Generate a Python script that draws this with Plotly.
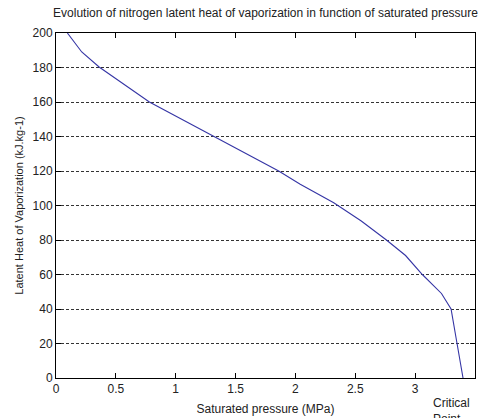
import plotly.graph_objects as go

# Saturated pressure (MPa) and latent heat of vaporization (kJ/kg)
pressure = [0.095, 0.215, 0.36, 0.55, 0.78, 1.05, 1.32, 1.6, 1.86, 2.04,
            2.32, 2.55, 2.76, 2.92, 3.06, 3.22, 3.30, 3.35, 3.40]
latent_heat = [200, 189, 180.3, 171, 160, 150, 140, 130, 120, 112.3,
               101.6, 91, 80, 71, 60, 49, 40, 20, 0]

x_ticks = [0, 0.5, 1, 1.5, 2, 2.5, 3, 3.5]
x_tick_labels = ["0", "0.5", "1", "1.5", "2", "2.5", "3", "3.5"]
y_ticks = [0, 20, 40, 60, 80, 100, 120, 140, 160, 180, 200]

FONT = "Liberation Sans, Arial, sans-serif"

fig = go.Figure()
fig.add_trace(go.Scatter(
    x=pressure, y=latent_heat, mode="lines",
    line=dict(color="#3535a5", width=1.1),
    showlegend=False, hoverinfo="x+y",
))

axis_common = dict(
    showline=True, linecolor="black", linewidth=1, mirror="ticks",
    ticks="inside", ticklen=5, tickcolor="black", tickwidth=1,
    zeroline=False,
    tickfont=dict(family=FONT, size=12, color="#222222"),
)

fig.update_layout(
    width=483, height=418,
    margin=dict(l=56, r=8, t=33, b=40),
    paper_bgcolor="white", plot_bgcolor="white",
    font=dict(family=FONT, size=11, color="#222222"),
    title=dict(
        text="Evolution of nitrogen latent heat of vaporization in function of saturated pressure",
        x=0.5, xref="paper", xanchor="center",
        y=1 - 13 / 418, yref="container", yanchor="middle",
        font=dict(family=FONT, size=12, color="#222222"),
    ),
    xaxis=dict(
        range=[0, 3.5], tickvals=x_ticks, ticktext=x_tick_labels,
        showgrid=False,
        title=dict(text="Saturated pressure (MPa)", standoff=9,
                   font=dict(family=FONT, size=12, color="#222222")),
        automargin=False,
        **axis_common,
    ),
    yaxis=dict(
        range=[0, 200], tickvals=y_ticks,
        showgrid=True, gridcolor="#333333", gridwidth=1, griddash="3px,2px",
        title=dict(text="Latent Heat of Vaporization (kJ.kg-1)", standoff=6,
                   font=dict(family=FONT, size=11, color="#222222")),
        automargin=False,
        **axis_common,
    ),
    annotations=[dict(
        text="Critical<br>Point", xref="x", yref="paper",
        x=3.13, y=-0.047, xanchor="left", yanchor="top", align="left",
        showarrow=False, font=dict(family=FONT, size=12, color="#222222"),
    )],
)

fig.write_html("out.html")
